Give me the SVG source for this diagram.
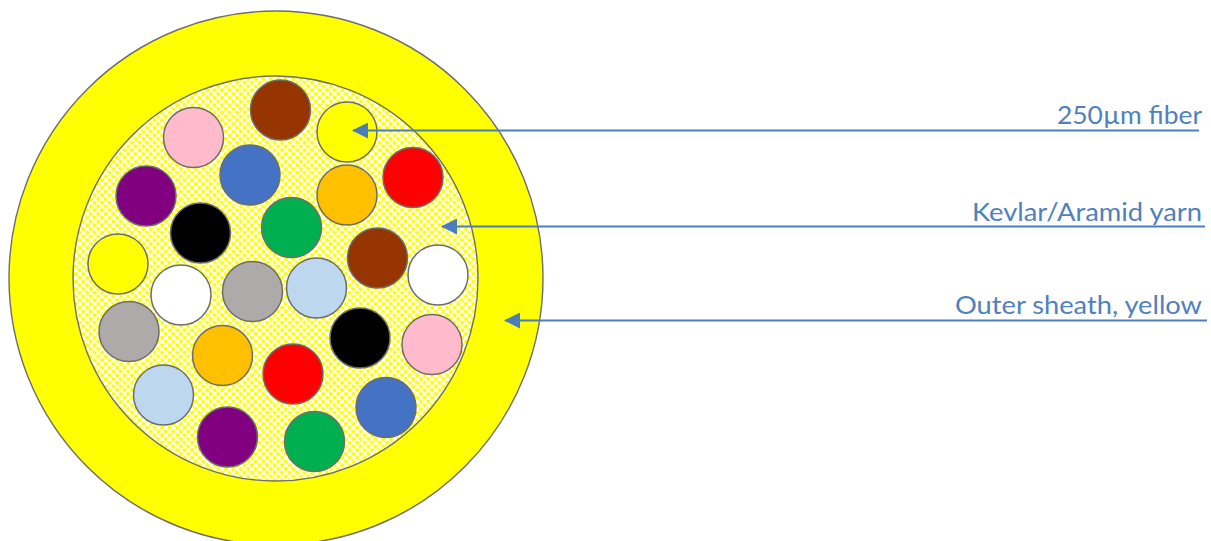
<svg xmlns="http://www.w3.org/2000/svg" width="1211" height="541" viewBox="0 0 1211 541">
<style>
circle{stroke:#6d6d6d;stroke-width:1.4}
.f{stroke:#6d6d6d;stroke-width:1.5}
.d{fill:#ff0;stroke:none}
.c{fill:none;stroke:#4a7ebb;stroke-width:2;marker-end:url(#a)}
text{font-family:Lato,"Open Sans",sans-serif;font-size:25px;fill:#4f81bd;text-anchor:end}
</style>
<defs>
<pattern id="p" width="7.5" height="7.5" patternUnits="userSpaceOnUse" patternTransform="translate(-1.075 2.125)">
<rect width="7.5" height="7.5" fill="#fff"/>
<circle class="d" cx="1.875" cy="1.875" r="2"/>
<circle class="d" cx="5.625" cy="5.625" r="2"/>
</pattern>
<marker id="a" markerUnits="userSpaceOnUse" markerWidth="17" markerHeight="16" refX="15" refY="8" orient="auto"><path d="M16 8L0 0V16Z" fill="#4a7ebb"/></marker>
</defs>
<g id="sheath"><circle cx="276" cy="278" r="267" fill="#ff0"/></g>
<g id="yarn"><circle cx="275.5" cy="278.500" r="202.500" fill="url(#p)"/></g>
<g id="fibers">
<circle id="f1" class="f" cx="280.500" cy="110" r="30" fill="#963500"/>
<circle id="f2" class="f" cx="193.500" cy="137.500" r="30" fill="#ffbbcc"/>
<circle id="f3" class="f" cx="347" cy="132" r="30" fill="#ff0"/>
<circle id="f4" class="f" cx="250" cy="175" r="30" fill="#4472c4"/>
<circle id="f5" class="f" cx="413" cy="177.500" r="30" fill="#f00"/>
<circle id="f6" class="f" cx="146" cy="196" r="30" fill="#800080"/>
<circle id="f7" class="f" cx="347" cy="195" r="30" fill="#ffc000"/>
<circle id="f8" class="f" cx="200.500" cy="233" r="30" fill="#000"/>
<circle id="f9" class="f" cx="291.500" cy="227.500" r="30" fill="#00b050"/>
<circle id="f10" class="f" cx="377.500" cy="258" r="30" fill="#963500"/>
<circle id="f11" class="f" cx="438" cy="275" r="30" fill="#fff"/>
<circle id="f12" class="f" cx="118" cy="264" r="30" fill="#ff0"/>
<circle id="f13" class="f" cx="181" cy="295" r="30" fill="#fff"/>
<circle id="f14" class="f" cx="252.500" cy="291.500" r="30" fill="#aeaaaa"/>
<circle id="f15" class="f" cx="316.500" cy="288" r="30" fill="#bdd7ee"/>
<circle id="f16" class="f" cx="129" cy="331.500" r="30" fill="#aeaaaa"/>
<circle id="f17" class="f" cx="360" cy="338" r="30" fill="#000"/>
<circle id="f18" class="f" cx="432" cy="344.500" r="30" fill="#ffbbcc"/>
<circle id="f19" class="f" cx="222.500" cy="355.500" r="30" fill="#ffc000"/>
<circle id="f20" class="f" cx="293" cy="374" r="30" fill="#f00"/>
<circle id="f21" class="f" cx="163.500" cy="395" r="30" fill="#bdd7ee"/>
<circle id="f22" class="f" cx="386" cy="407.500" r="30" fill="#4472c4"/>
<circle id="f23" class="f" cx="227.500" cy="437" r="30" fill="#800080"/>
<circle id="f24" class="f" cx="314.500" cy="441.500" r="30" fill="#00b050"/>
</g>
<g id="connectors">
<path class="c" d="M1199 130.500H353"/>
<path class="c" d="M1205 226.500H442"/>
<path class="c" d="M1207 320.500H505"/>
</g>
<g id="labels">
<text x="1202" y="124" textLength="145" lengthAdjust="spacingAndGlyphs">250µm fiber</text>
<text x="1202" y="221" textLength="230" lengthAdjust="spacingAndGlyphs">Kevlar/Aramid yarn</text>
<text x="1202" y="314" textLength="247" lengthAdjust="spacingAndGlyphs">Outer sheath, yellow</text>
</g>
</svg>
